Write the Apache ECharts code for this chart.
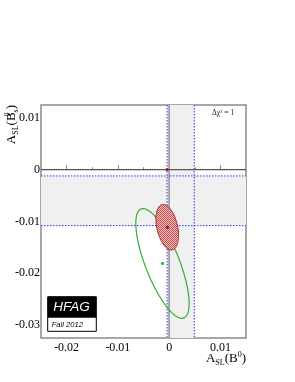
<!DOCTYPE html>
<html>
<head>
<meta charset="utf-8">
<script src="https://cdn.jsdelivr.net/npm/echarts@6/dist/echarts.min.js"></script>
<style>html,body{margin:0;padding:0;background:#fff;}#c{width:295px;height:382px;}</style>
</head>
<body>
<div id="c"></div>
<script>
// ---- data ----
var xRange = [-0.025, 0.015];
var yRange = [-0.0325, 0.0125];
var xMajorTicks = [-0.02, -0.01, 0, 0.01];
var xMinorTicks = [-0.015, -0.005, 0.005];
var yMajorTicks = [0.01, 0, -0.01, -0.02, -0.03];
var yMinorTicks = [0.005, -0.005, -0.015, -0.025];
// A_SL(B0) band and A_SL(Bs) band (1 sigma)
var bandB0 = [-0.0004, 0.0049];
var bandBs = [-0.0108, -0.0012];
// SM prediction
var smPoint = [-0.00041, 0.00002];
// combined fit: centre x, centre y, sigma x, sigma y, correlation
var fitEllipse = [-0.00037, -0.0111, 0.0022, 0.0044, -0.36];
// D0 dimuon: centre x, centre y, sigma x, sigma y, correlation
var d0Ellipse = [-0.0013, -0.0181, 0.0052, 0.0106, -0.73];

// ---- pattern for hatched fill ----
var pat = document.createElement('canvas');
pat.width = 2; pat.height = 2;
var pc = pat.getContext('2d');
pc.fillStyle = '#f2cccc'; pc.fillRect(0,0,2,2);
pc.fillStyle = '#c24444'; pc.fillRect(0,0,1,1); pc.fillRect(1,1,1,1);

function fmt(v){ if (Math.abs(v) < 1e-9) return '0'; return v.toFixed(2); }

function ellipseRender(stroke, fill, lw){
  return function(params, api){
    var cx = api.value(0), cy = api.value(1), sx = api.value(2), sy = api.value(3), r = api.value(4);
    var pts = [];
    var n = 120;
    for (var i = 0; i < n; i++){
      var t = 2*Math.PI*i/n;
      var x = cx + sx*Math.cos(t);
      var y = cy + sy*(r*Math.cos(t) + Math.sqrt(1-r*r)*Math.sin(t));
      pts.push(api.coord([x, y]));
    }
    return {type:'polygon', shape:{points:pts}, style:{fill:fill, stroke:stroke, lineWidth:lw}};
  };
}

var blue = '#3030f0';
var option = {
  animation: false,
  grid: {left:41, top:105, right:49, bottom:44, show:true, borderColor:'#8a8a8a', borderWidth:1.5, backgroundColor:'transparent'},
  xAxis: [
    {type:'value', min:xRange[0], max:xRange[1], position:'bottom',
     axisLine:{show:false}, splitLine:{show:false},
     axisTick:{show:true, inside:true, length:4.5, customValues:xMajorTicks, lineStyle:{color:'#8a8a8a', width:1}},
     axisLabel:{show:true, customValues:xMajorTicks, margin:4, formatter:fmt, color:'#000', fontFamily:'Liberation Serif', fontSize:12}},
    {type:'value', min:xRange[0], max:xRange[1], position:'bottom',
     axisLine:{show:false}, splitLine:{show:false},
     axisTick:{show:true, inside:true, length:2.5, customValues:xMinorTicks, lineStyle:{color:'#8a8a8a', width:1}},
     axisLabel:{show:false}}
  ],
  yAxis: [
    {type:'value', min:yRange[0], max:yRange[1], position:'left',
     axisLine:{show:false}, splitLine:{show:false},
     axisTick:{show:true, inside:true, length:7, customValues:yMajorTicks, lineStyle:{color:'#8a8a8a', width:1}},
     axisLabel:{show:true, customValues:yMajorTicks, margin:1, formatter:fmt, color:'#000', fontFamily:'Liberation Serif', fontSize:12}},
    {type:'value', min:yRange[0], max:yRange[1], position:'left',
     axisLine:{show:false}, splitLine:{show:false},
     axisTick:{show:true, inside:true, length:4, customValues:yMinorTicks, lineStyle:{color:'#8a8a8a', width:1}},
     axisLabel:{show:false}}
  ],
  series: [
    {type:'custom', name:'bands', z:1, silent:true, data:[[0]],
     renderItem:function(params, api){
       var a = api.coord([bandB0[0], yRange[1]]), b = api.coord([bandB0[1], yRange[0]]);
       var c = api.coord([xRange[0], bandBs[1]]), d = api.coord([xRange[1], bandBs[0]]);
       return {type:'group', children:[
         {type:'rect', shape:{x:a[0], y:a[1], width:b[0]-a[0], height:b[1]-a[1]}, style:{fill:'#f0f0f0'}},
         {type:'rect', shape:{x:c[0], y:c[1], width:d[0]-c[0], height:d[1]-c[1]}, style:{fill:'#f0f0f0'}}
       ]};
     }},
    {type:'custom', name:'lines', z:2, silent:true, data:[[0]],
     renderItem:function(params, api){
       var ch = [];
       bandB0.forEach(function(v){
         var p = api.coord([v, yRange[1]]), q = api.coord([v, yRange[0]]);
         ch.push({type:'line', shape:{x1:p[0], y1:p[1], x2:q[0], y2:q[1]}, style:{stroke:blue, lineWidth:1, lineDash:[1.5,1.5]}});
       });
       bandBs.forEach(function(v){
         var p = api.coord([xRange[0], v]), q = api.coord([xRange[1], v]);
         ch.push({type:'line', shape:{x1:p[0], y1:p[1], x2:q[0], y2:q[1]}, style:{stroke:blue, lineWidth:1, lineDash:[1.5,1.5]}});
       });
       var p0 = api.coord([0, yRange[1]]), q0 = api.coord([0, yRange[0]]);
       ch.push({type:'line', shape:{x1:p0[0], y1:p0[1], x2:q0[0], y2:q0[1]}, style:{stroke:'#a0a0a0', lineWidth:1.8}});
       var p1 = api.coord([xRange[0], 0]), q1 = api.coord([xRange[1], 0]);
       ch.push({type:'line', shape:{x1:p1[0], y1:p1[1], x2:q1[0], y2:q1[1]}, style:{stroke:'#555', lineWidth:1.2}});
       return {type:'group', children:ch};
     }},
    {type:'custom', name:'D0', z:3, silent:true, data:[d0Ellipse],
     renderItem: ellipseRender('#3aaa3a', 'none', 1.2)},
    {type:'custom', name:'fit', z:4, silent:true, data:[fitEllipse],
     renderItem: ellipseRender('#a82020', {image:pat, repeat:'repeat'}, 1)},
    {type:'scatter', name:'D0c', z:5, symbolSize:3.2, data:[[d0Ellipse[0], d0Ellipse[1]]], itemStyle:{color:'#139a13'}},
    {type:'scatter', name:'fitc', z:5, symbolSize:3.5, data:[[fitEllipse[0], fitEllipse[1]]], itemStyle:{color:'#9a0000'}},
    {type:'scatter', name:'SM', z:5, symbolSize:3.2, data:[smPoint], itemStyle:{color:'#b00000'}}
  ],
  graphic: [
    {type:'text', x:212, y:113, z:10, style:{text:'\u0394\u03c7\u00b2 = 1', font:'7.5px "Liberation Serif"', fill:'#222', verticalAlign:'middle'}},
    {type:'text', x:246, y:359, z:10, style:{
      text:'{m|A}{sub|SL}{m|(B}{sup|0}{m|)}', align:'right', verticalAlign:'middle',
      rich:{m:{fontFamily:'Liberation Serif', fontSize:13, lineHeight:16, verticalAlign:'middle', fill:'#000'},
            sub:{fontFamily:'Liberation Serif', fontSize:8, lineHeight:16, verticalAlign:'bottom', fill:'#000'},
            sup:{fontFamily:'Liberation Serif', fontSize:8, lineHeight:16, verticalAlign:'top', fill:'#000'}}}},
    {type:'text', x:12, y:105, rotation:Math.PI/2, z:10, style:{
      text:'{m|A}{sub|SL}{m|(B}{supz|0}{sub|s}{m|)}', align:'right', verticalAlign:'middle',
      rich:{m:{fontFamily:'Liberation Serif', fontSize:13, lineHeight:16, verticalAlign:'middle', fill:'#000'},
            sub:{fontFamily:'Liberation Serif', fontSize:8, lineHeight:16, verticalAlign:'bottom', fill:'#000'},
            supz:{fontFamily:'Liberation Serif', fontSize:8, lineHeight:16, verticalAlign:'top', width:0.01, fill:'#000'}}}},
    {type:'group', x:47.7, y:296.7, z:10, children:[
      {type:'rect', shape:{x:0, y:0, width:48.6, height:34.6}, style:{fill:'#fff', stroke:'#000', lineWidth:1}},
      {type:'rect', shape:{x:0, y:0, width:48.6, height:21}, style:{fill:'#000'}},
      {type:'text', x:5.5, y:11, style:{text:'HFAG', font:'italic 13.5px "Liberation Sans"', fill:'#fff', verticalAlign:'middle'}},
      {type:'text', x:4, y:28, style:{text:'Fall 2012', font:'italic 7.6px "Liberation Sans"', fill:'#000', verticalAlign:'middle'}}
    ]}
  ]
};
var chart = echarts.init(document.getElementById('c'), null, {renderer:'canvas'});
chart.setOption(option);
</script>
</body>
</html>
